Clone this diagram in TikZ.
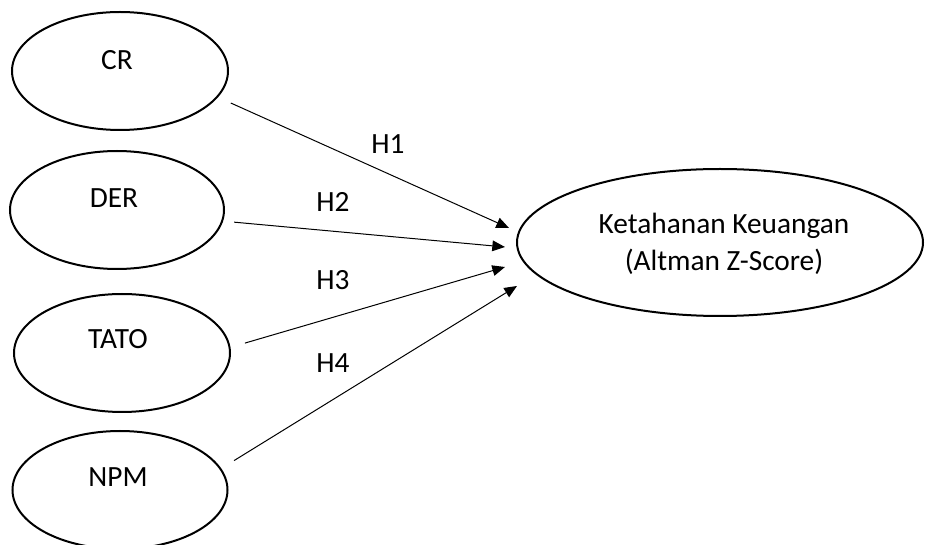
\documentclass[tikz,border=0pt]{standalone}
\usepackage{fontspec}
\setmainfont{Carlito}
\usetikzlibrary{shapes.geometric,arrows.meta}
\begin{document}
\begin{tikzpicture}[x=0.75pt,y=-0.75pt,
  ell/.style={draw, ellipse, line width=1.5pt, inner sep=0pt, minimum height=88.5pt},
  txt/.style={font=\fontsize{22}{27.75}\selectfont, inner sep=0pt},
  arr/.style={-{Triangle[length=9.5pt,width=8pt]}, line width=0.75pt}]
\useasboundingbox (0,0) rectangle (926,545);
% source ellipses
\node[ell, minimum width=162pt] (cr) at (120,71) {};
\node[ell, minimum width=160.5pt] (der) at (117,210) {};
\node[ell, minimum width=162pt] (tato) at (122,353) {};
\node[ell, minimum width=161.25pt] (npm) at (120,490) {};
\node[txt] (crt) at (117,60) {CR};
\node[txt] (dert) at (114,198) {DER};
\node[txt] (tatot) at (118,339) {TATO};
\node[txt] (npmt) at (118,477) {NPM};
% target ellipse
\node[ell, minimum width=304.5pt, minimum height=110.25pt] (k) at (720,242.5) {};
\node[txt, align=center] (kt) at (724,244) {Ketahanan Keuangan\\(Altman Z-Score)};
% arrow tips
\coordinate (t1) at (509,228);
\coordinate (t2) at (505,247);
\coordinate (t3) at (505,267);
\coordinate (t4) at (517,286);
\draw[arr, shorten <=10.5pt] (cr.-15) -- (t1);
\draw[arr, shorten <=8.25pt] (der.-6) -- (t2);
\draw[arr, shorten <=11.25pt] (tato.3) -- (t3);
\draw[arr, shorten <=11.25pt] (npm.12) -- (t4);
% labels
\node[txt] (h1) at (388,144) {H1};
\node[txt] (h2) at (333,202) {H2};
\node[txt] (h3) at (333,280) {H3};
\node[txt] (h4) at (333,363) {H4};
\end{tikzpicture}
\end{document}
